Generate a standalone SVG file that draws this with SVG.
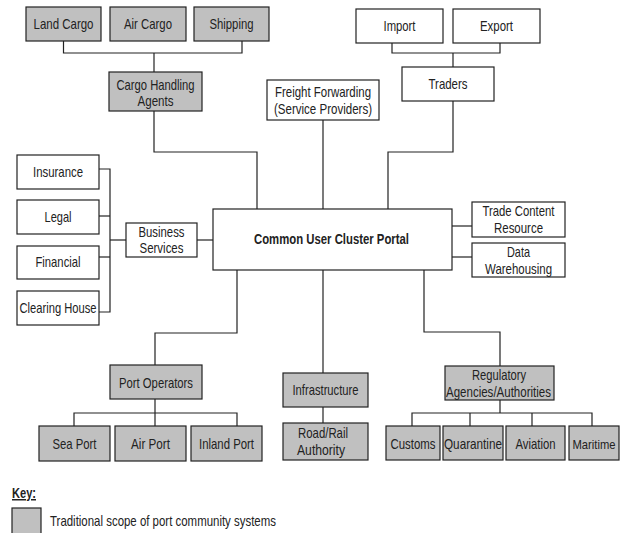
<svg xmlns="http://www.w3.org/2000/svg" width="621" height="533" viewBox="0 0 621 533">
<style>
  .box { fill: #ffffff; stroke: #222222; stroke-width: 1.2; }
  .g { fill: #c0c0c0; }
  .t { font-family: "Liberation Sans", Arial, sans-serif; font-size: 15px; fill: #222222; text-anchor: middle; }
  .b { font-weight: bold; }
  .l { text-anchor: start; }
  .conn path { fill: none; stroke: #222222; stroke-width: 1.2; }
</style>
<rect width="621" height="533" fill="#ffffff"/>

<g id="connectors" class="conn">
  <path d="M63.5,41 V53 H242 V41"/>
  <path d="M154,53 V72"/>
  <path d="M154,111 V152 H257 V209"/>
  <path d="M323,120 V209"/>
  <path d="M392,43 V53 H500 V43"/>
  <path d="M453,53 V67"/>
  <path d="M453,101 V152 H388 V209"/>
  <path d="M99,169 H110 V312 H99"/>
  <path d="M99,216 H110"/>
  <path d="M99,257 H110"/>
  <path d="M110,240 H126"/>
  <path d="M197,240 H213"/>
  <path d="M452,226 H472"/>
  <path d="M452,257 H472"/>
  <path d="M237,270 V333 H155 V365"/>
  <path d="M155,399 V426"/>
  <path d="M74,426 V413 H237 V426"/>
  <path d="M323,270 V373"/>
  <path d="M323,407 V423"/>
  <path d="M424,270 V332 H500 V366"/>
  <path d="M500,400 V413"/>
  <path d="M412,426 V413 H592 V426"/>
  <path d="M470,413 V426"/>
  <path d="M532,413 V426"/>
</g>

<g id="land-cargo"><rect class="box g" x="26" y="7" width="75" height="34"/><text class="t" x="63.5" y="29" textLength="60" lengthAdjust="spacingAndGlyphs">Land Cargo</text></g>
<g id="air-cargo"><rect class="box g" x="110" y="7" width="76" height="34"/><text class="t" x="148" y="29" textLength="48" lengthAdjust="spacingAndGlyphs">Air Cargo</text></g>
<g id="shipping"><rect class="box g" x="194" y="7" width="75" height="34"/><text class="t" x="231.5" y="29" textLength="44" lengthAdjust="spacingAndGlyphs">Shipping</text></g>

<g id="cargo-handling"><rect class="box g" x="109" y="72" width="93" height="39"/><text class="t" x="155.5" y="90" textLength="78" lengthAdjust="spacingAndGlyphs">Cargo Handling</text><text class="t" x="155.5" y="106" textLength="36" lengthAdjust="spacingAndGlyphs">Agents</text></g>

<g id="freight"><rect class="box" x="267" y="80" width="112" height="40"/><text class="t" x="323" y="97" textLength="96" lengthAdjust="spacingAndGlyphs">Freight Forwarding</text><text class="t" x="323" y="114" textLength="98" lengthAdjust="spacingAndGlyphs">(Service Providers)</text></g>

<g id="import"><rect class="box" x="356" y="9" width="87" height="34"/><text class="t" x="399.5" y="31" textLength="32" lengthAdjust="spacingAndGlyphs">Import</text></g>
<g id="export"><rect class="box" x="453" y="9" width="87" height="34"/><text class="t" x="496.5" y="31" textLength="33" lengthAdjust="spacingAndGlyphs">Export</text></g>
<g id="traders"><rect class="box" x="402" y="67" width="92" height="34"/><text class="t" x="448" y="89" textLength="39" lengthAdjust="spacingAndGlyphs">Traders</text></g>

<g id="insurance"><rect class="box" x="17" y="155" width="82" height="34"/><text class="t" x="58" y="177" textLength="50" lengthAdjust="spacingAndGlyphs">Insurance</text></g>
<g id="legal"><rect class="box" x="17" y="200" width="82" height="34"/><text class="t" x="58" y="222" textLength="27" lengthAdjust="spacingAndGlyphs">Legal</text></g>
<g id="financial"><rect class="box" x="17" y="246" width="82" height="33"/><text class="t" x="58" y="267" textLength="45" lengthAdjust="spacingAndGlyphs">Financial</text></g>
<g id="clearing-house"><rect class="box" x="17" y="291" width="82" height="34"/><text class="t" x="58" y="313" textLength="77" lengthAdjust="spacingAndGlyphs">Clearing House</text></g>

<g id="business-services"><rect class="box" x="126" y="223" width="71" height="34"/><text class="t" x="161.5" y="237" textLength="46" lengthAdjust="spacingAndGlyphs">Business</text><text class="t" x="161.5" y="253" textLength="44" lengthAdjust="spacingAndGlyphs">Services</text></g>

<g id="portal"><rect class="box" x="213" y="209" width="239" height="61"/><text class="t b" x="331.5" y="244" textLength="155" lengthAdjust="spacingAndGlyphs">Common User Cluster Portal</text></g>

<g id="trade-content"><rect class="box" x="472" y="202" width="93" height="35"/><text class="t" x="518.5" y="216" textLength="72" lengthAdjust="spacingAndGlyphs">Trade Content</text><text class="t" x="518.5" y="233" textLength="49" lengthAdjust="spacingAndGlyphs">Resource</text></g>
<g id="data-warehousing"><rect class="box" x="472" y="243" width="93" height="34"/><text class="t" x="518.5" y="257" textLength="23" lengthAdjust="spacingAndGlyphs">Data</text><text class="t" x="518.5" y="274" textLength="67" lengthAdjust="spacingAndGlyphs">Warehousing</text></g>

<g id="port-operators"><rect class="box g" x="110" y="365" width="92" height="34"/><text class="t" x="156" y="388" textLength="74" lengthAdjust="spacingAndGlyphs">Port Operators</text></g>
<g id="sea-port"><rect class="box g" x="39" y="426" width="71" height="35"/><text class="t" x="74.5" y="449" textLength="44" lengthAdjust="spacingAndGlyphs">Sea Port</text></g>
<g id="air-port"><rect class="box g" x="115" y="426" width="71" height="35"/><text class="t" x="150.5" y="449" textLength="39" lengthAdjust="spacingAndGlyphs">Air Port</text></g>
<g id="inland-port"><rect class="box g" x="191" y="426" width="71" height="35"/><text class="t" x="226.5" y="449" textLength="55" lengthAdjust="spacingAndGlyphs">Inland Port</text></g>

<g id="infrastructure"><rect class="box g" x="283" y="373" width="85" height="34"/><text class="t" x="325.5" y="395" textLength="66" lengthAdjust="spacingAndGlyphs">Infrastructure</text></g>
<g id="road-rail"><rect class="box g" x="283" y="423" width="85" height="37"/><text class="t" x="323" y="438" textLength="50" lengthAdjust="spacingAndGlyphs">Road/Rail</text><text class="t" x="321" y="455" textLength="48" lengthAdjust="spacingAndGlyphs">Authority</text></g>

<g id="regulatory"><rect class="box g" x="445" y="366" width="109" height="34"/><text class="t" x="499" y="380" textLength="54" lengthAdjust="spacingAndGlyphs">Regulatory</text><text class="t" x="498.5" y="397" textLength="105" lengthAdjust="spacingAndGlyphs">Agencies/Authorities</text></g>
<g id="customs"><rect class="box g" x="386" y="426" width="54" height="34"/><text class="t" x="413" y="449" textLength="45" lengthAdjust="spacingAndGlyphs">Customs</text></g>
<g id="quarantine"><rect class="box g" x="443" y="426" width="60" height="34"/><text class="t" x="473" y="449" textLength="58" lengthAdjust="spacingAndGlyphs">Quarantine</text></g>
<g id="aviation"><rect class="box g" x="506" y="426" width="59" height="34"/><text class="t" x="535.5" y="449" textLength="40" lengthAdjust="spacingAndGlyphs">Aviation</text></g>
<g id="maritime"><rect class="box g" x="569" y="426" width="50" height="34"/><text class="t" x="594" y="449" style="font-size:13px" textLength="43" lengthAdjust="spacingAndGlyphs">Maritime</text></g>

<g id="key">
  <text class="t b l" x="12" y="498" textLength="24" lengthAdjust="spacingAndGlyphs" text-decoration="underline">Key:</text>
  <rect class="box g" x="12" y="508" width="29" height="34"/>
  <text class="t l" x="50" y="526" textLength="226" lengthAdjust="spacingAndGlyphs">Traditional scope of port community systems</text>
</g>
</svg>
